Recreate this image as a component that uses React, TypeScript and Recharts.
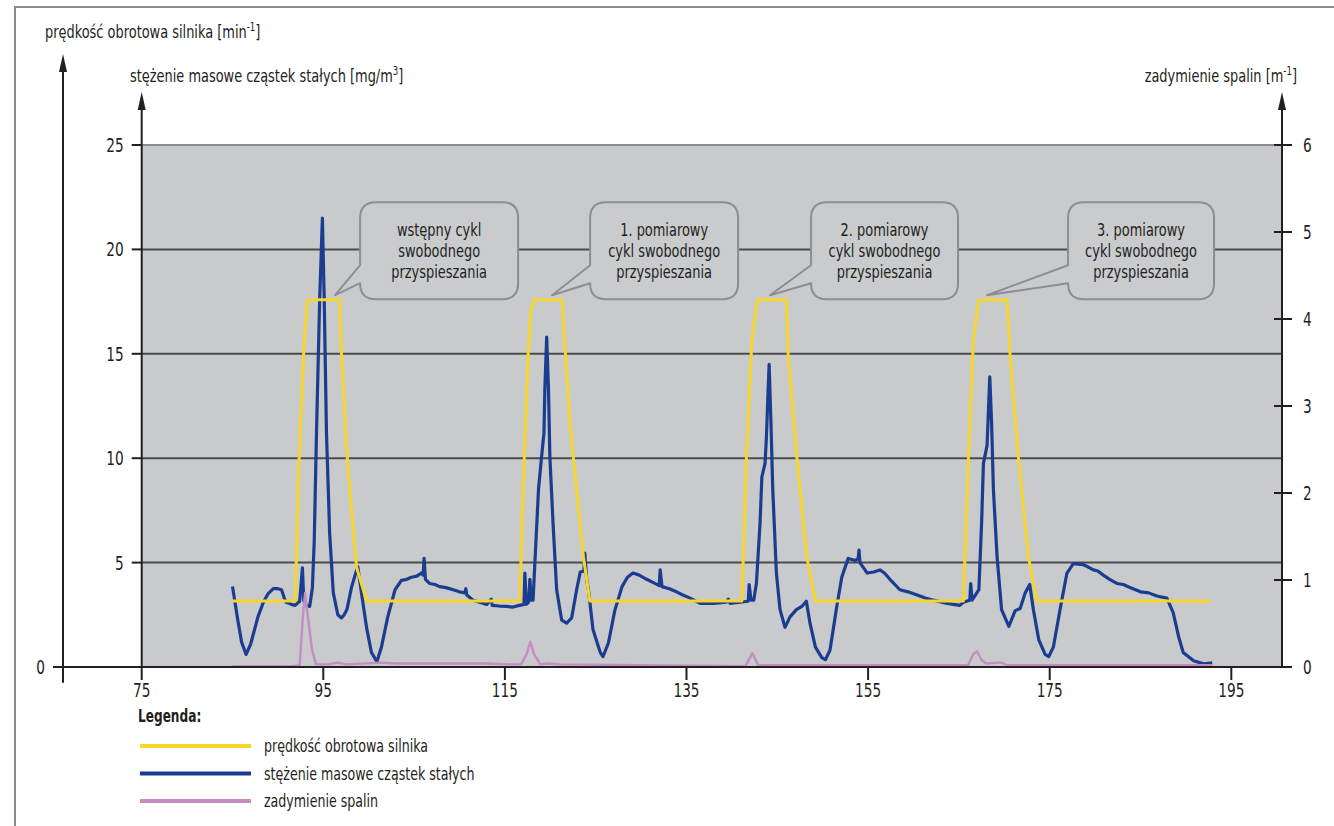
import React from 'react'
import { LineChart, Line, XAxis, YAxis, ReferenceArea, ReferenceLine, ReferenceDot } from 'recharts'

const FONT = "'DejaVu Sans Condensed', 'DejaVu Sans', sans-serif"
const INK = '#231f20'
const PLOT_BG = '#c8cacc'
// the original uses a tall, narrow gothic face: squeeze DejaVu horizontally
const SQ = 0.8

// axis ticks
const X_TICKS = [75, 95, 115, 135, 155, 175, 195]
const PM_TICKS = [0, 5, 10, 15, 20, 25]
const SMOKE_TICKS = [0, 1, 2, 3, 4, 5, 6]
const GRID_PM = [5, 10, 15, 20]

// stężenie masowe cząstek stałych [mg/m3] — [czas, wartość]
const PM_SERIES: [number, number][] = [
  [85.0, 3.85], [85.2, 3.3], [85.6, 2.2], [86.0, 1.2], [86.5, 0.6], [87.0, 1.1],
  [87.8, 2.4], [88.4, 3.1], [88.9, 3.5], [89.5, 3.75], [90.0, 3.75], [90.4, 3.7],
  [90.7, 3.3], [90.9, 3.1], [91.5, 3.0], [91.9, 2.95], [92.4, 3.15], [92.6, 4.2],
  [92.7, 4.75], [92.85, 3.2], [93.0, 3.0], [93.5, 2.9], [93.8, 3.8], [94.0, 6.0],
  [94.25, 11.2], [94.6, 17.6], [94.9, 21.5], [95.1, 17.6], [95.35, 11.2], [95.7, 6.4],
  [96.1, 3.55], [96.6, 2.5], [97.0, 2.35], [97.3, 2.5], [97.6, 2.75], [98.1, 3.8],
  [98.5, 4.4], [98.8, 4.8], [99.2, 3.55], [99.8, 1.8], [100.3, 0.7], [100.9, 0.25],
  [101.4, 0.95], [102.1, 2.4], [102.9, 3.7], [103.6, 4.15], [104.2, 4.2], [104.7, 4.3],
  [105.3, 4.35], [105.8, 4.5], [106.0, 4.4], [106.1, 5.2], [106.25, 4.2], [106.7, 4.0],
  [107.3, 3.95], [107.8, 3.85], [108.5, 3.8], [109.3, 3.7], [110.0, 3.6], [110.6, 3.55],
  [110.7, 3.75], [110.8, 3.45], [111.5, 3.2], [112.2, 3.1], [113.0, 3.0], [113.5, 3.25],
  [113.6, 2.95], [114.4, 2.92], [115.2, 2.9], [115.9, 2.87], [116.6, 2.95], [117.1, 3.0],
  [117.2, 4.5], [117.35, 3.0], [117.6, 3.1], [117.75, 4.2], [117.9, 3.2], [118.1, 3.2],
  [118.7, 8.5], [119.0, 9.9], [119.3, 11.2], [119.4, 13.3], [119.6, 15.8], [119.8, 13.3],
  [119.95, 10.1], [120.3, 6.9], [120.7, 3.7], [121.25, 2.25], [121.8, 2.1], [122.35, 2.35],
  [122.9, 3.7], [123.3, 4.55], [123.7, 4.6], [123.8, 5.45], [124.0, 4.2], [124.2, 3.7],
  [124.7, 1.8], [125.5, 0.7], [125.8, 0.5], [126.4, 1.15], [127.1, 2.7], [127.9, 3.85],
  [128.5, 4.3], [129.1, 4.5], [129.8, 4.4], [130.6, 4.2], [131.3, 4.05], [132.0, 3.9],
  [132.1, 4.65], [132.3, 3.85], [133.1, 3.75], [133.9, 3.6], [134.6, 3.45], [135.4, 3.3],
  [136.5, 3.05], [137.95, 3.05], [139.4, 3.1], [139.6, 3.25], [139.8, 3.05], [140.9, 3.1],
  [141.8, 3.15], [141.9, 3.95], [142.1, 3.2], [142.4, 3.2], [142.7, 4.0], [143.1, 6.9],
  [143.3, 9.1], [143.65, 9.75], [143.8, 11.0], [143.95, 12.8], [144.1, 14.5], [144.3, 11.7],
  [144.5, 8.5], [144.9, 4.5], [145.3, 2.75], [145.85, 1.9], [146.4, 2.4], [147.1, 2.75],
  [147.7, 2.9], [148.2, 3.15], [148.6, 2.1], [149.2, 0.95], [149.9, 0.45], [150.3, 0.35],
  [150.8, 0.8], [151.55, 2.9], [152.1, 4.3], [152.8, 5.2], [153.6, 5.1], [153.9, 5.2],
  [154.0, 5.6], [154.1, 5.0], [154.9, 4.5], [155.6, 4.55], [156.3, 4.65], [156.8, 4.5],
  [157.4, 4.2], [158.5, 3.7], [159.4, 3.6], [160.4, 3.45], [161.3, 3.3], [162.2, 3.2],
  [163.7, 3.05], [165.1, 2.95], [165.5, 3.1], [166.2, 3.2], [166.3, 4.0], [166.45, 3.2],
  [166.6, 3.3], [167.2, 3.7], [167.5, 6.9], [167.7, 9.75], [168.1, 10.6], [168.3, 12.8],
  [168.4, 13.9], [168.6, 11.7], [168.8, 8.5], [169.2, 5.3], [169.7, 2.75], [170.5, 1.95],
  [171.2, 2.7], [171.75, 2.8], [172.3, 3.55], [172.8, 3.95], [173.2, 2.75], [173.8, 1.3],
  [174.5, 0.6], [174.9, 0.5], [175.4, 0.95], [176.2, 2.9], [176.9, 4.5], [177.6, 4.95],
  [178.7, 4.9], [179.2, 4.8], [179.8, 4.65], [180.3, 4.6], [180.9, 4.4], [181.6, 4.2],
  [182.4, 4.0], [183.1, 3.95], [183.9, 3.8], [185.0, 3.6], [185.9, 3.55], [186.8, 3.4],
  [187.9, 3.3], [188.6, 2.6], [189.2, 1.45], [189.7, 0.7], [190.85, 0.3], [191.95, 0.15],
  [192.9, 0.2],
]

// prędkość obrotowa silnika [min-1]
const RPM_SERIES: [number, number][] = [
  [85.0, 870], [91.9, 870], [92.3, 2640], [92.9, 4310], [93.25, 4840], [96.8, 4840],
  [97.0, 4130], [97.7, 2640], [98.65, 1320], [99.75, 880], [100.0, 870],
  [116.65, 870], [117.0, 2330], [117.55, 4090], [117.85, 4700], [118.3, 4840], [121.3, 4840],
  [121.45, 4530], [122.15, 3220], [122.9, 2330], [123.65, 1450], [124.35, 870],
  [141.1, 870], [141.6, 2770], [142.2, 4310], [142.75, 4810], [142.95, 4840], [146.0, 4840],
  [146.2, 4090], [147.15, 2770], [148.25, 1450], [149.2, 870],
  [165.5, 870], [166.05, 2770], [166.6, 4310], [167.15, 4810], [167.35, 4840], [170.3, 4840],
  [170.65, 4090], [171.55, 2770], [172.65, 1450], [173.6, 870], [192.7, 870],
]

// zadymienie spalin [m-1]
const SMOKE_SERIES: [number, number][] = [
  [85.0, 0.01], [91.5, 0.01], [92.4, 0.02], [92.75, 0.58], [93.0, 0.85], [93.3, 0.58],
  [93.75, 0.2], [94.2, 0.03], [95.5, 0.03], [96.6, 0.05], [97.5, 0.03], [101.5, 0.05],
  [103.0, 0.04], [108.0, 0.04], [113.0, 0.04], [115.5, 0.03], [116.8, 0.03], [117.4, 0.15],
  [117.8, 0.29], [118.2, 0.15], [118.9, 0.03], [119.8, 0.04], [121.0, 0.03], [141.5, 0.01],
  [142.25, 0.16], [142.9, 0.02], [166.0, 0.02], [166.6, 0.15], [167.0, 0.18], [167.5, 0.08],
  [168.0, 0.04], [169.4, 0.05], [169.7, 0.05], [170.3, 0.02], [192.9, 0.02],
]

const SERIES = [
  { key: 'rpm', name: 'prędkość obrotowa silnika', color: '#f7d62a' },
  { key: 'pm', name: 'stężenie masowe cząstek stałych', color: '#1b3d90' },
  { key: 'smoke', name: 'zadymienie spalin', color: '#c78cc2' },
]

const CALLOUT_X = [96.3, 120.2, 144.2, 168.1]
const CALLOUT_RPM = 4900
const CALLOUT_TEXT = [
  ['wstępny cykl', 'swobodnego', 'przyspieszania'],
  ['1. pomiarowy', 'cykl swobodnego', 'przyspieszania'],
  ['2. pomiarowy', 'cykl swobodnego', 'przyspieszania'],
  ['3. pomiarowy', 'cykl swobodnego', 'przyspieszania'],
]

// layout
const W = 1334
const H = 826
const PLOT_L = 63
const PLOT_R = 1282
const PLOT_T = 60
const PLOT_B = 667
const X75_PX = 141.7
const PX_PER_S = 9.08
const PX_PER_PM = 20.88
const X_MIN = 75 - (X75_PX - PLOT_L) / PX_PER_S
const X_MAX = X_MIN + (PLOT_R - PLOT_L) / PX_PER_S
const PM_TOP = (PLOT_B - PLOT_T) / PX_PER_PM
const SMOKE_TOP = (PM_TOP * 6) / 25
const RPM_TOP = 8000
const ARROW_PM = (PLOT_B - 98) / PX_PER_PM
const INNER_DX = (75 - X_MIN) * PX_PER_S
const BOX_DX = [25, 38, 41, 81]
const BOX_W = [158, 148, 147, 146]

const toPoints = (s: [number, number][]) => s.map(([t, v]) => ({ t, v }))

function SqText(props: {
  x: number
  y: number
  size: number
  anchor?: 'start' | 'middle' | 'end'
  weight?: string
  sq?: number
  children: React.ReactNode
}) {
  const { x, y, size, anchor = 'start', weight, sq = SQ, children } = props
  return (
    <g transform={`translate(${x},${y}) scale(${sq},1)`}>
      <text x={0} y={0} fontSize={size} textAnchor={anchor} fontWeight={weight} fill={INK} fontFamily={FONT}>
        {children}
      </text>
    </g>
  )
}

function XTick(props: any) {
  const { x, y, payload } = props
  return (
    <SqText x={x} y={y + 15} size={19} anchor="middle">
      {payload.value}
    </SqText>
  )
}

function PmTick(props: any) {
  const { x, y, payload } = props
  const ax = payload.value === 0 ? x : x + INNER_DX
  return (
    <g>
      <line x1={ax - 10} x2={ax} y1={y} y2={y} stroke={INK} strokeWidth={2} />
      <SqText x={ax - 18} y={y + 7} size={19} anchor="end">
        {payload.value}
      </SqText>
    </g>
  )
}

function SmokeTick(props: any) {
  const { x, y, payload } = props
  return (
    <g>
      <line x1={x - 8} x2={x + 10} y1={y} y2={y} stroke={INK} strokeWidth={2} />
      <SqText x={x + 21} y={y + 7} size={19}>
        {payload.value}
      </SqText>
    </g>
  )
}

const arrowShape = (props: any) => {
  const { cx, cy } = props
  return <polygon points={`${cx},${cy - 6} ${cx - 4},${cy + 12} ${cx + 4},${cy + 12}`} fill={INK} />
}

const calloutShape = (i: number) => (props: any) => {
  const { cx, cy } = props
  const L = cx + BOX_DX[i]
  const T = cy - 93
  const R = L + BOX_W[i]
  const B = cy + 4
  const r = 16
  const d =
    `M${L + r},${T} H${R - r} Q${R},${T} ${R},${T + r} V${B - r} Q${R},${B} ${R - r},${B} ` +
    `H${L + r} Q${L},${B} ${L},${B - r} L${cx},${cy} L${L},${cy - 30} V${T + r} Q${L},${T} ${L + r},${T} Z`
  const mid = L + BOX_W[i] / 2
  return (
    <g>
      <path d={d} fill="#c9cbcd" stroke="#8c8e90" strokeWidth={2} strokeLinejoin="round" />
      {CALLOUT_TEXT[i].map((line, k) => (
        <SqText key={k} x={mid} y={T + 34 + k * 21} size={18} anchor="middle">
          {line}
        </SqText>
      ))}
    </g>
  )
}

export default function App() {
  const data: Record<string, { t: number; v: number }[]> = {
    pm: toPoints(PM_SERIES),
    rpm: toPoints(RPM_SERIES),
    smoke: toPoints(SMOKE_SERIES),
  }
  const drawOrder = ['pm', 'rpm', 'smoke']
  const widthFor: Record<string, number> = { pm: 3.2, rpm: 3, smoke: 2.4 }

  return (
    <div style={{ position: 'absolute', left: 0, top: 0, width: W, height: H, background: '#fff' }}>
      <LineChart
        width={W}
        height={H}
        margin={{ top: PLOT_T, right: 0, bottom: H - PLOT_B - 40, left: PLOT_L - 40 }}
      >
        <XAxis
          dataKey="t"
          type="number"
          domain={[X_MIN, X_MAX]}
          ticks={X_TICKS}
          interval={0}
          allowDataOverflow
          height={40}
          tickSize={13}
          tickMargin={2}
          axisLine={{ stroke: INK, strokeWidth: 2 }}
          tickLine={{ stroke: INK, strokeWidth: 2 }}
          tick={<XTick />}
        />
        <YAxis
          yAxisId="pm"
          type="number"
          domain={[0, PM_TOP]}
          ticks={PM_TICKS}
          interval={0}
          allowDataOverflow
          width={40}
          tickSize={0}
          tickMargin={0}
          tickLine={false}
          axisLine={{ stroke: INK, strokeWidth: 2 }}
          tick={<PmTick />}
        />
        <YAxis
          yAxisId="smoke"
          orientation="right"
          type="number"
          domain={[0, SMOKE_TOP]}
          ticks={SMOKE_TICKS}
          interval={0}
          allowDataOverflow
          width={W - PLOT_R}
          tickSize={0}
          tickMargin={0}
          tickLine={false}
          axisLine={false}
          tick={<SmokeTick />}
        />
        <YAxis yAxisId="rpm" hide type="number" domain={[0, RPM_TOP]} allowDataOverflow />

        <ReferenceArea yAxisId="pm" x1={75} x2={X_MAX} y1={0} y2={25} fill={PLOT_BG} fillOpacity={1} stroke="none" />
        <ReferenceLine
          yAxisId="pm"
          segment={[{ x: 75, y: 25 }, { x: X_MAX, y: 25 }]}
          stroke="#8a8c8e"
          strokeWidth={2}
        />
        {GRID_PM.map(g => (
          <ReferenceLine
            key={g}
            yAxisId="pm"
            segment={[{ x: 75, y: g }, { x: X_MAX, y: g }]}
            stroke="#4a4b4d"
            strokeWidth={2}
          />
        ))}
        <ReferenceLine
          yAxisId="pm"
          segment={[{ x: 75, y: 0 }, { x: 75, y: ARROW_PM }]}
          stroke={INK}
          strokeWidth={2}
        />
        <ReferenceLine
          yAxisId="pm"
          segment={[{ x: X_MAX, y: 0 }, { x: X_MAX, y: ARROW_PM }]}
          stroke={INK}
          strokeWidth={2}
          ifOverflow="visible"
        />
        <ReferenceLine
          yAxisId="pm"
          segment={[{ x: X_MIN, y: 0 }, { x: X_MIN, y: -0.75 }]}
          stroke={INK}
          strokeWidth={2}
          ifOverflow="visible"
        />

        {drawOrder.map(k => {
          const s = SERIES.find(x => x.key === k)!
          return (
            <Line
              key={k}
              data={data[k]}
              dataKey="v"
              name={s.name}
              yAxisId={k}
              type="linear"
              stroke={s.color}
              strokeWidth={widthFor[k]}
              strokeLinejoin="round"
              dot={false}
              activeDot={false}
              isAnimationActive={false}
            />
          )
        })}

        <ReferenceDot yAxisId="pm" x={X_MIN} y={PM_TOP} r={0} ifOverflow="visible" shape={arrowShape} />
        <ReferenceDot yAxisId="pm" x={75} y={ARROW_PM} r={0} ifOverflow="visible" shape={arrowShape} />
        <ReferenceDot yAxisId="pm" x={X_MAX} y={ARROW_PM} r={0} ifOverflow="visible" shape={arrowShape} />
        {CALLOUT_X.map((cx, i) => (
          <ReferenceDot
            key={i}
            yAxisId="rpm"
            x={cx}
            y={CALLOUT_RPM}
            r={0}
            ifOverflow="visible"
            shape={calloutShape(i)}
          />
        ))}
      </LineChart>

      <svg
        width={W}
        height={H}
        style={{ position: 'absolute', left: 0, top: 0, pointerEvents: 'none' }}
      >
        <line x1={15} y1={7} x2={15} y2={H} stroke="#8a8a8a" strokeWidth={2} />
        <line x1={14} y1={7} x2={W} y2={7} stroke="#8a8a8a" strokeWidth={2} />

        <SqText x={45} y={38} size={18}>
          prędkość obrotowa silnika [min
          <tspan fontSize={12} dy={-7}>-1</tspan>
          <tspan fontSize={18} dy={7}>]</tspan>
        </SqText>
        <SqText x={130} y={82} size={18}>
          stężenie masowe cząstek stałych [mg/m
          <tspan fontSize={12} dy={-7}>3</tspan>
          <tspan fontSize={18} dy={7}>]</tspan>
        </SqText>
        <SqText x={1297} y={82} size={18} anchor="end">
          zadymienie spalin [m
          <tspan fontSize={12} dy={-7}>-1</tspan>
          <tspan fontSize={18} dy={7}>]</tspan>
        </SqText>

        <SqText x={138} y={722} size={18} weight="bold" sq={0.75}>
          Legenda:
        </SqText>
        {SERIES.map((s, i) => {
          const y = 746 + i * 27.5
          return (
            <g key={s.key}>
              <line x1={140} x2={251} y1={y} y2={y} stroke={s.color} strokeWidth={4} />
              <SqText x={264} y={y + 6} size={18} sq={0.78}>
                {s.name}
              </SqText>
            </g>
          )
        })}
      </svg>
    </div>
  )
}
